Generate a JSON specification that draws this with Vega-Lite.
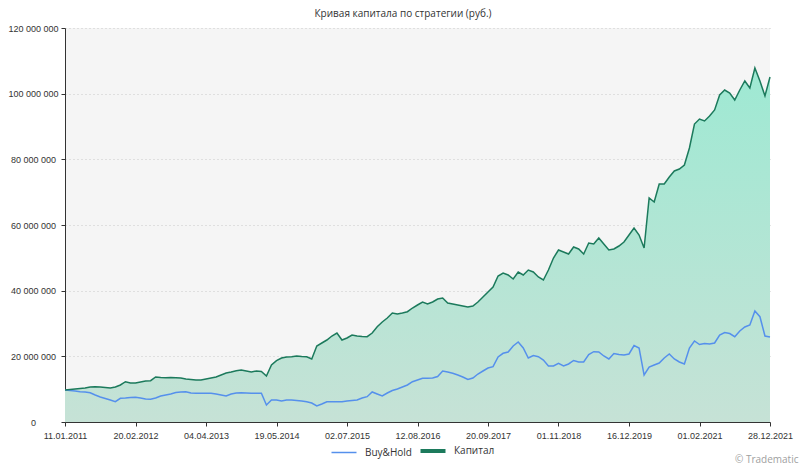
{
  "$schema": "https://vega.github.io/schema/vega-lite/v6.json",
  "width": 705,
  "height": 394,
  "autosize": {"type": "none"},
  "padding": {"left": 65, "top": 28, "right": 30, "bottom": 45},
  "background": "#ffffff",
  "config": {
    "view": {"fill": "#f5f5f5", "stroke": null},
    "font": "Open Sans"
  },
  "title": {
    "text": "Кривая капитала по стратегии (руб.)",
    "font": "Open Sans",
    "fontSize": 10,
    "fontWeight": "normal",
    "color": "#333333",
    "anchor": "middle",
    "frame": "bounds",
    "offset": 5
  },
  "data": {
    "values": [
      {"t":0,"Капитал":9750000,"Buy&Hold":9750000},
      {"t":1,"Капитал":9900000,"Buy&Hold":9590000},
      {"t":2,"Капитал":10050000,"Buy&Hold":9440000},
      {"t":3,"Капитал":10200000,"Buy&Hold":9230000},
      {"t":4,"Капитал":10360000,"Buy&Hold":9140000},
      {"t":5,"Капитал":10660000,"Buy&Hold":8920000},
      {"t":6,"Капитал":10750000,"Buy&Hold":8220000},
      {"t":7,"Капитал":10660000,"Buy&Hold":7610000},
      {"t":8,"Капитал":10510000,"Buy&Hold":7160000},
      {"t":9,"Капитал":10360000,"Buy&Hold":6700000},
      {"t":10,"Капитал":10660000,"Buy&Hold":6180000},
      {"t":11,"Капитал":11270000,"Buy&Hold":7220000},
      {"t":12,"Капитал":12270000,"Buy&Hold":7310000},
      {"t":13,"Капитал":11880000,"Buy&Hold":7460000},
      {"t":14,"Капитал":11880000,"Buy&Hold":7520000},
      {"t":15,"Капитал":12180000,"Buy&Hold":7310000},
      {"t":16,"Капитал":12490000,"Buy&Hold":7010000},
      {"t":17,"Капитал":12580000,"Buy&Hold":6910000},
      {"t":18,"Капитал":13710000,"Buy&Hold":7310000},
      {"t":19,"Капитал":13550000,"Buy&Hold":7920000},
      {"t":20,"Капитал":13490000,"Buy&Hold":8220000},
      {"t":21,"Капитал":13550000,"Buy&Hold":8530000},
      {"t":22,"Капитал":13490000,"Buy&Hold":8980000},
      {"t":23,"Капитал":13400000,"Buy&Hold":9140000},
      {"t":24,"Капитал":13100000,"Buy&Hold":9230000},
      {"t":25,"Капитал":12940000,"Buy&Hold":8830000},
      {"t":26,"Капитал":12790000,"Buy&Hold":8740000},
      {"t":27,"Капитал":12790000,"Buy&Hold":8740000},
      {"t":28,"Капитал":13100000,"Buy&Hold":8740000},
      {"t":29,"Капитал":13400000,"Buy&Hold":8740000},
      {"t":30,"Капитал":13710000,"Buy&Hold":8530000},
      {"t":31,"Капитал":14310000,"Buy&Hold":8220000},
      {"t":32,"Капитал":14920000,"Buy&Hold":7920000},
      {"t":33,"Капитал":15230000,"Buy&Hold":8530000},
      {"t":34,"Капитал":15620000,"Buy&Hold":8830000},
      {"t":35,"Капитал":15840000,"Buy&Hold":8920000},
      {"t":36,"Капитал":15530000,"Buy&Hold":8830000},
      {"t":37,"Капитал":15230000,"Buy&Hold":8740000},
      {"t":38,"Капитал":15530000,"Buy&Hold":8740000},
      {"t":39,"Капитал":15380000,"Buy&Hold":8740000},
      {"t":40,"Капитал":14010000,"Buy&Hold":5180000},
      {"t":41,"Капитал":17360000,"Buy&Hold":6700000},
      {"t":42,"Капитал":18670000,"Buy&Hold":6700000},
      {"t":43,"Капитал":19490000,"Buy&Hold":6400000},
      {"t":44,"Капитал":19800000,"Buy&Hold":6700000},
      {"t":45,"Капитал":19890000,"Buy&Hold":6700000},
      {"t":46,"Капитал":20100000,"Buy&Hold":6550000},
      {"t":47,"Капитал":19950000,"Buy&Hold":6400000},
      {"t":48,"Капитал":19890000,"Buy&Hold":6180000},
      {"t":49,"Капитал":19190000,"Buy&Hold":5790000},
      {"t":50,"Капитал":23150000,"Buy&Hold":4870000},
      {"t":51,"Капитал":24060000,"Buy&Hold":5480000},
      {"t":52,"Капитал":24970000,"Buy&Hold":6180000},
      {"t":53,"Капитал":26190000,"Buy&Hold":6180000},
      {"t":54,"Капитал":27110000,"Buy&Hold":6180000},
      {"t":55,"Капитал":24970000,"Buy&Hold":6180000},
      {"t":56,"Капитал":25580000,"Buy&Hold":6400000},
      {"t":57,"Капитал":26500000,"Buy&Hold":6550000},
      {"t":58,"Капитал":26190000,"Buy&Hold":6700000},
      {"t":59,"Капитал":26040000,"Buy&Hold":7310000},
      {"t":60,"Капитал":25980000,"Buy&Hold":7710000},
      {"t":61,"Капитал":27110000,"Buy&Hold":9140000},
      {"t":62,"Капитал":29030000,"Buy&Hold":8530000},
      {"t":63,"Капитал":30460000,"Buy&Hold":7920000},
      {"t":64,"Капитал":31680000,"Buy&Hold":8830000},
      {"t":65,"Капитал":33200000,"Buy&Hold":9590000},
      {"t":66,"Капитал":32890000,"Buy&Hold":10050000},
      {"t":67,"Капитал":33200000,"Buy&Hold":10660000},
      {"t":68,"Капитал":33590000,"Buy&Hold":11270000},
      {"t":69,"Капитал":34720000,"Buy&Hold":12270000},
      {"t":70,"Капитал":35630000,"Buy&Hold":12790000},
      {"t":71,"Капитал":36550000,"Buy&Hold":13310000},
      {"t":72,"Капитал":35940000,"Buy&Hold":13310000},
      {"t":73,"Капитал":36550000,"Buy&Hold":13400000},
      {"t":74,"Капитал":37460000,"Buy&Hold":13860000},
      {"t":75,"Капитал":37770000,"Buy&Hold":15530000},
      {"t":76,"Капитал":36240000,"Buy&Hold":15230000},
      {"t":77,"Капитал":35940000,"Buy&Hold":14830000},
      {"t":78,"Капитал":35630000,"Buy&Hold":14310000},
      {"t":79,"Капитал":35330000,"Buy&Hold":13710000},
      {"t":80,"Капитал":35030000,"Buy&Hold":12940000},
      {"t":81,"Капитал":35330000,"Buy&Hold":13400000},
      {"t":82,"Капитал":36550000,"Buy&Hold":14620000},
      {"t":83,"Капитал":38070000,"Buy&Hold":15530000},
      {"t":84,"Капитал":39590000,"Buy&Hold":16450000},
      {"t":85,"Капитал":41120000,"Buy&Hold":16840000},
      {"t":86,"Капитал":44470000,"Buy&Hold":19800000},
      {"t":87,"Капитал":45380000,"Buy&Hold":20920000},
      {"t":88,"Капитал":44770000,"Buy&Hold":21320000},
      {"t":89,"Капитал":43550000,"Buy&Hold":23150000},
      {"t":90,"Капитал":45690000,"Buy&Hold":24370000},
      {"t":91,"Капитал":44770000,"Buy&Hold":22540000},
      {"t":92,"Капитал":46290000,"Buy&Hold":19490000},
      {"t":93,"Капитал":45690000,"Buy&Hold":20250000},
      {"t":94,"Капитал":44160000,"Buy&Hold":19890000},
      {"t":95,"Капитал":43250000,"Buy&Hold":18880000},
      {"t":96,"Капитал":46290000,"Buy&Hold":17060000},
      {"t":97,"Капитал":49950000,"Buy&Hold":17060000},
      {"t":98,"Капитал":52390000,"Buy&Hold":17880000},
      {"t":99,"Капитал":51780000,"Buy&Hold":17060000},
      {"t":100,"Капитал":51170000,"Buy&Hold":17670000},
      {"t":101,"Капитал":53300000,"Buy&Hold":18730000},
      {"t":102,"Капитал":52690000,"Buy&Hold":18270000},
      {"t":103,"Капитал":51170000,"Buy&Hold":18270000},
      {"t":104,"Капитал":54520000,"Buy&Hold":20560000},
      {"t":105,"Капитал":54210000,"Buy&Hold":21410000},
      {"t":106,"Капитал":56040000,"Buy&Hold":21320000},
      {"t":107,"Капитал":54210000,"Buy&Hold":20100000},
      {"t":108,"Капитал":52390000,"Buy&Hold":19190000},
      {"t":109,"Капитал":52690000,"Buy&Hold":20860000},
      {"t":110,"Капитал":53600000,"Buy&Hold":20560000},
      {"t":111,"Капитал":54820000,"Buy&Hold":20410000},
      {"t":112,"Капитал":56950000,"Buy&Hold":20710000},
      {"t":113,"Капитал":59090000,"Buy&Hold":23300000},
      {"t":114,"Капитал":56950000,"Buy&Hold":22540000},
      {"t":115,"Капитал":52990000,"Buy&Hold":14310000},
      {"t":116,"Капитал":68220000,"Buy&Hold":16750000},
      {"t":117,"Капитал":67010000,"Buy&Hold":17360000},
      {"t":118,"Капитал":72490000,"Buy&Hold":17970000},
      {"t":119,"Капитал":72490000,"Buy&Hold":19490000},
      {"t":120,"Капитал":74620000,"Buy&Hold":20710000},
      {"t":121,"Капитал":76450000,"Buy&Hold":19190000},
      {"t":122,"Капитал":77060000,"Buy&Hold":18270000},
      {"t":123,"Капитал":78270000,"Buy&Hold":17670000},
      {"t":124,"Капитал":83450000,"Buy&Hold":22540000},
      {"t":125,"Капитал":90760000,"Buy&Hold":24670000},
      {"t":126,"Капитал":92280000,"Buy&Hold":23600000},
      {"t":127,"Капитал":91680000,"Buy&Hold":23910000},
      {"t":128,"Капитал":93200000,"Buy&Hold":23760000},
      {"t":129,"Капитал":95030000,"Buy&Hold":24060000},
      {"t":130,"Капитал":99590000,"Buy&Hold":26500000},
      {"t":131,"Капитал":101120000,"Buy&Hold":27260000},
      {"t":132,"Капитал":100200000,"Buy&Hold":26950000},
      {"t":133,"Капитал":98070000,"Buy&Hold":25980000},
      {"t":134,"Капитал":101120000,"Buy&Hold":27720000},
      {"t":135,"Капитал":103860000,"Buy&Hold":28930000},
      {"t":136,"Капитал":101730000,"Buy&Hold":29540000},
      {"t":137,"Капитал":107820000,"Buy&Hold":33810000},
      {"t":138,"Капитал":103860000,"Buy&Hold":32070000},
      {"t":139,"Капитал":99290000,"Buy&Hold":26190000},
      {"t":140,"Капитал":105080000,"Buy&Hold":25890000}
    ]
  },
  "layer": [
    {
      "mark": {
        "type": "area",
        "fill": {
          "gradient": "linear",
          "x1": 0, "y1": 1, "x2": 0, "y2": 0,
          "stops": [
            {"offset": 0, "color": "#c6e2d6"},
            {"offset": 1, "color": "#9ee9d3"}
          ]
        }
      },
      "encoding": {
        "x": {
          "field": "t",
          "type": "quantitative",
          "scale": {"domain": [0, 140], "nice": false, "zero": false},
          "axis": {
            "values": [0, 14, 28, 42, 56, 70, 84, 98, 112, 126, 140],
            "labelExpr": "['11.01.2011','20.02.2012','04.04.2013','19.05.2014','02.07.2015','12.08.2016','20.09.2017','01.11.2018','16.12.2019','01.02.2021','28.12.2021'][round(datum.value/14)]",
            "grid": false,
            "domainColor": "#333333",
            "tickColor": "#333333",
            "tickSize": 4,
            "labelFont": "Liberation Sans",
            "labelFontSize": 9,
            "labelColor": "#333333",
            "labelPadding": 5,
            "labelFlush": false,
            "labelOverlap": false,
            "title": "© Tradematic",
            "titleFont": "Open Sans",
            "titleFontSize": 10,
            "titleFontWeight": "normal",
            "titleColor": "#a0a0a0",
            "titleAlign": "right",
            "titleAnchor": "end",
            "titleBaseline": "middle",
            "titleX": 733,
            "titleY": 37
          }
        },
        "y": {
          "field": "Капитал",
          "type": "quantitative",
          "scale": {"domain": [0, 120000000], "nice": false},
          "axis": {
            "values": [0, 20000000, 40000000, 60000000, 80000000, 100000000, 120000000],
            "labelExpr": "replace(format(datum.value, ',d'), regexp(',', 'g'), ' ')",
            "grid": true,
            "gridColor": "#c8c8c8",
            "gridDash": [1, 3],
            "domainColor": "#333333",
            "tickColor": "#333333",
            "tickSize": 4,
            "labelFont": "Liberation Sans",
            "labelFontSize": 9,
            "labelColor": "#333333",
            "labelAlign": "center",
            "labelPadding": 28,
            "title": null
          }
        }
      }
    },
    {
      "transform": [{"fold": ["Buy&Hold", "Капитал"], "as": ["series", "value"]}],
      "mark": {"type": "line", "strokeWidth": 1.5, "interpolate": "linear"},
      "encoding": {
        "x": {"field": "t", "type": "quantitative"},
        "y": {"field": "value", "type": "quantitative"},
        "color": {
          "field": "series",
          "type": "nominal",
          "scale": {"domain": ["Buy&Hold", "Капитал"], "range": ["#5590ec", "#1c7a5c"]},
          "legend": {
            "title": null,
            "orient": "none",
            "legendX": 274,
            "legendY": 418,
            "direction": "horizontal",
            "symbolType": "stroke",
            "symbolSize": 625,
            "symbolStrokeWidth": 1.5,
            "labelFont": "Open Sans",
            "labelFontSize": 10,
            "labelColor": "#333333",
            "labelOffset": 16,
            "columnPadding": 0,
            "encode": {
              "symbols": {
                "update": {
                  "strokeWidth": {"signal": "datum.value === 'Капитал' ? 4 : 1.5"},
                  "stroke": {"signal": "datum.value === 'Капитал' ? '#4fbf95' : '#5590ec'"}
                }
              }
            }
          }
        }
      }
    }
  ]
}
